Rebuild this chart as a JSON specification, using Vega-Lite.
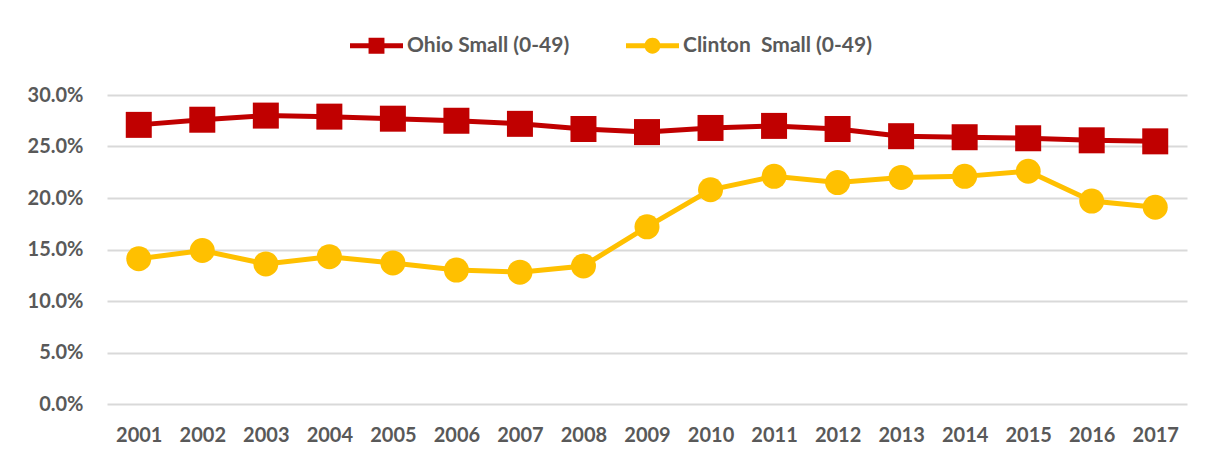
{
  "$schema": "https://vega.github.io/schema/vega-lite/v6.json",
  "autosize": {"type": "none"},
  "width": 1080,
  "height": 309,
  "padding": {"left": 107, "top": 95, "right": 20, "bottom": 57},
  "background": "white",
  "config": {
    "view": {"stroke": null},
    "font": "Lato",
    "axis": {"labelFont": "Lato", "labelFontWeight": "bold", "labelFontSize": 20, "labelColor": "#595959"}
  },
  "data": {
    "values": [
      {"year": "2001", "series": "Ohio Small (0-49)", "v": 0.271},
      {"year": "2002", "series": "Ohio Small (0-49)", "v": 0.276},
      {"year": "2003", "series": "Ohio Small (0-49)", "v": 0.280},
      {"year": "2004", "series": "Ohio Small (0-49)", "v": 0.279},
      {"year": "2005", "series": "Ohio Small (0-49)", "v": 0.277},
      {"year": "2006", "series": "Ohio Small (0-49)", "v": 0.275},
      {"year": "2007", "series": "Ohio Small (0-49)", "v": 0.272},
      {"year": "2008", "series": "Ohio Small (0-49)", "v": 0.267},
      {"year": "2009", "series": "Ohio Small (0-49)", "v": 0.264},
      {"year": "2010", "series": "Ohio Small (0-49)", "v": 0.268},
      {"year": "2011", "series": "Ohio Small (0-49)", "v": 0.270},
      {"year": "2012", "series": "Ohio Small (0-49)", "v": 0.267},
      {"year": "2013", "series": "Ohio Small (0-49)", "v": 0.260},
      {"year": "2014", "series": "Ohio Small (0-49)", "v": 0.259},
      {"year": "2015", "series": "Ohio Small (0-49)", "v": 0.258},
      {"year": "2016", "series": "Ohio Small (0-49)", "v": 0.256},
      {"year": "2017", "series": "Ohio Small (0-49)", "v": 0.255},
      {"year": "2001", "series": "Clinton\u00a0 Small (0-49)", "v": 0.141},
      {"year": "2002", "series": "Clinton\u00a0 Small (0-49)", "v": 0.149},
      {"year": "2003", "series": "Clinton\u00a0 Small (0-49)", "v": 0.136},
      {"year": "2004", "series": "Clinton\u00a0 Small (0-49)", "v": 0.143},
      {"year": "2005", "series": "Clinton\u00a0 Small (0-49)", "v": 0.137},
      {"year": "2006", "series": "Clinton\u00a0 Small (0-49)", "v": 0.130},
      {"year": "2007", "series": "Clinton\u00a0 Small (0-49)", "v": 0.128},
      {"year": "2008", "series": "Clinton\u00a0 Small (0-49)", "v": 0.134},
      {"year": "2009", "series": "Clinton\u00a0 Small (0-49)", "v": 0.172},
      {"year": "2010", "series": "Clinton\u00a0 Small (0-49)", "v": 0.208},
      {"year": "2011", "series": "Clinton\u00a0 Small (0-49)", "v": 0.221},
      {"year": "2012", "series": "Clinton\u00a0 Small (0-49)", "v": 0.215},
      {"year": "2013", "series": "Clinton\u00a0 Small (0-49)", "v": 0.220},
      {"year": "2014", "series": "Clinton\u00a0 Small (0-49)", "v": 0.221},
      {"year": "2015", "series": "Clinton\u00a0 Small (0-49)", "v": 0.226},
      {"year": "2016", "series": "Clinton\u00a0 Small (0-49)", "v": 0.197},
      {"year": "2017", "series": "Clinton\u00a0 Small (0-49)", "v": 0.191}
    ]
  },
  "encoding": {
    "x": {"field": "year", "type": "ordinal", "scale": {"type": "point", "padding": 0.5},
      "axis": {"title": null, "labelAngle": 0, "domain": false, "ticks": false, "labelPadding": 21, "grid": false}},
    "y": {"field": "v", "type": "quantitative", "scale": {"domain": [0, 0.3], "nice": false},
      "axis": {"title": null, "format": ".1%", "values": [0, 0.05, 0.1, 0.15, 0.2, 0.25, 0.3], "domain": false, "ticks": false, "labelPadding": 24, "gridColor": "#d9d9d9", "gridWidth": 2}},
    "color": {"field": "series", "type": "nominal",
      "scale": {"domain": ["Ohio Small (0-49)", "Clinton\u00a0 Small (0-49)"], "range": ["#C00000", "#FFC000"]}}
  },
  "layer": [
    {
      "mark": {"type": "line", "strokeWidth": 5},
      "encoding": {
        "color": {"field": "series", "type": "nominal",
          "scale": {"domain": ["Ohio Small (0-49)", "Clinton\u00a0 Small (0-49)"], "range": ["#C00000", "#FFC000"]},
          "legend": {
            "orient": "none", "legendX": 243, "legendY": -76, "direction": "horizontal", "title": null,
            "padding": 0, "columnPadding": 56, "labelFont": "Lato", "labelFontWeight": "bold", "labelFontSize": 21, "labelColor": "#595959",
            "labelLimit": 400, "symbolSize": 2809, "labelOffset": 4,
            "encode": {"symbols": {"update": {
              "shape": {"signal": "datum.value == 'Ohio Small (0-49)' ? 'M-1,-0.095H1V0.095H-1Z M-0.3,-0.3H0.3V0.3H-0.3Z' : 'M-1,-0.095H1V0.095H-1Z M-0.3,0A0.3,0.3 0 1,1 0.3,0A0.3,0.3 0 1,1 -0.3,0Z'"},
              "fill": {"signal": "scale('color', datum.value)"},
              "fillOpacity": {"value": 1},
              "strokeWidth": {"value": 0}
            }}}
          }}
      }
    },
    {
      "transform": [{"filter": "datum.series == 'Ohio Small (0-49)'"}],
      "mark": {"type": "point", "shape": "square", "filled": true, "opacity": 1, "size": 676},
      "encoding": {"color": {"field": "series", "type": "nominal", "legend": null}}
    },
    {
      "transform": [{"filter": "datum.series != 'Ohio Small (0-49)'"}],
      "mark": {"type": "point", "shape": "circle", "filled": true, "opacity": 1, "size": 625},
      "encoding": {"color": {"field": "series", "type": "nominal", "legend": null}}
    }
  ]
}
